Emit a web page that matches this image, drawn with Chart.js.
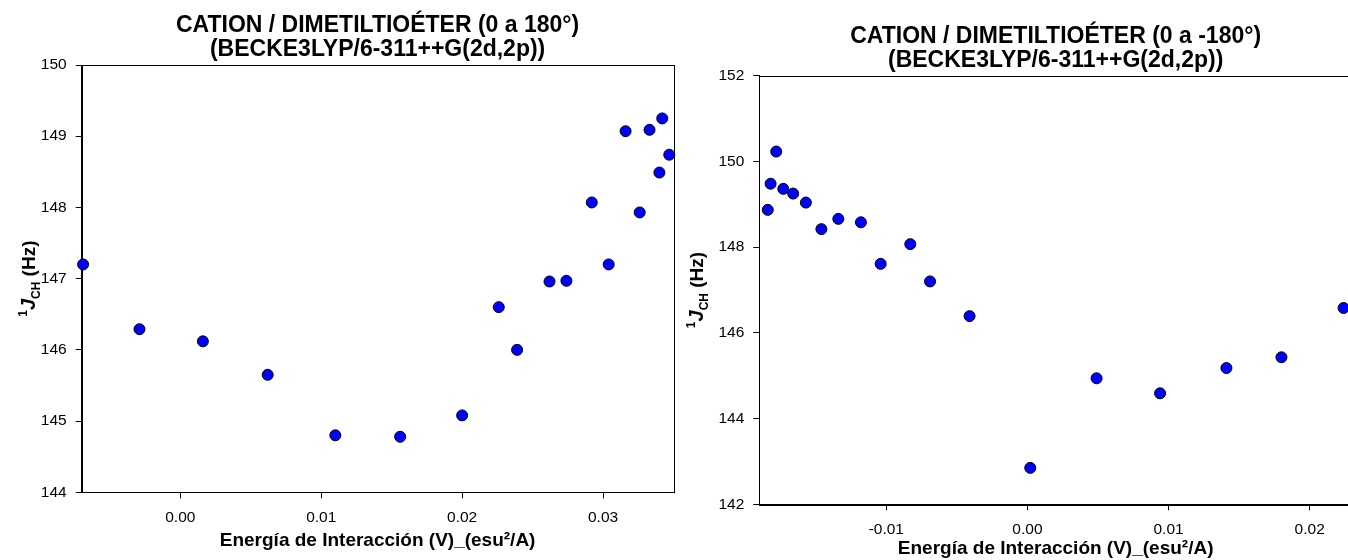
<!DOCTYPE html>
<html>
<head>
<meta charset="utf-8">
<script src="https://cdn.jsdelivr.net/npm/chart.js@4.4.1/dist/chart.umd.min.js"></script>
<style>
html, body { margin: 0; padding: 0; background: #fff; overflow: hidden; width: 1348px; height: 560px; }
.box { position: absolute; top: 0; }
</style>
</head>
<body>
<div class="box" style="left:0"><canvas id="left" width="680" height="560"></canvas></div>
<div class="box" style="left:680px"><canvas id="right" width="680" height="560"></canvas></div>
<script>
// 0 a 180
var leftX = [-0.0069, -0.0029, 0.0016, 0.0062, 0.0110, 0.0156, 0.0200, 0.0226, 0.0239, 0.0262,
             0.0274, 0.0292, 0.0304, 0.0316, 0.0326, 0.0333, 0.0340, 0.0342, 0.0347];
var leftY = [147.20, 146.29, 146.12, 145.65, 144.80, 144.78, 145.08, 146.60, 146.00, 146.96,
             146.97, 148.07, 147.20, 149.07, 147.93, 149.09, 148.49, 149.25, 148.74];
var leftXTicks = [0, 0.01, 0.02, 0.03];
var leftYTicks = [144, 145, 146, 147, 148, 149, 150];

// 0 a -180
var rightX = [-0.0184, -0.0182, -0.0178, -0.0173, -0.0166, -0.0157, -0.0146, -0.0134, -0.0118, -0.0104,
              -0.0083, -0.0069, -0.0041, 0.0002, 0.0049, 0.0094, 0.0141, 0.0180, 0.0224];
var rightY = [148.87, 149.48, 150.23, 149.36, 149.25, 149.04, 148.42, 148.66, 148.58, 147.61,
              148.07, 147.20, 146.39, 142.85, 144.94, 144.59, 145.18, 145.43, 146.58];
var rightXTicks = [-0.01, 0, 0.01, 0.02];
var rightYTicks = [142, 144, 146, 148, 150, 152];

var leftTitle = ['CATION / DIMETILTIOÉTER (0 a 180°)', '(BECKE3LYP/6-311++G(2d,2p))'];
var rightTitle = ['CATION / DIMETILTIOÉTER (0 a -180°)', '(BECKE3LYP/6-311++G(2d,2p))'];
var xTitle = 'Energía de Interacción (V)_(esu²/A)';

var FONT = '"Liberation Sans", Arial, sans-serif';

// box around the plot area
var framePlugin = {
    id: 'frame',
    beforeDatasetsDraw: function (chart) {
        var a = chart.chartArea, c = chart.ctx;
        c.save();
        c.strokeStyle = '#000';
        c.lineWidth = 1;
        c.strokeRect(Math.round(a.left) + 0.5, Math.round(a.top) + 0.5,
                     Math.round(a.right - a.left), Math.round(a.bottom - a.top));
        c.restore();
    }
};

// rotated y title: superscript 1, italic J, subscript CH
var yTitlePlugin = {
    id: 'ytitle',
    afterDraw: function (chart, args, opts) {
        var c = chart.ctx, a = chart.chartArea;
        var parts = [
            { t: '1', f: 'bold 12px ' + FONT, dy: -8 },
            { t: 'J', f: 'italic bold 20px ' + FONT, dy: 0 },
            { t: 'CH', f: 'bold 12px ' + FONT, dy: 5 },
            { t: ' (Hz)', f: 'bold 19px ' + FONT, dy: 0 }
        ];
        c.save();
        var w = 0;
        parts.forEach(function (p) { c.font = p.f; p.w = c.measureText(p.t).width; w += p.w; });
        c.translate(opts.x, (a.top + a.bottom) / 2);
        c.rotate(-Math.PI / 2);
        c.fillStyle = '#000';
        c.textBaseline = 'alphabetic';
        var x = -w / 2;
        parts.forEach(function (p) { c.font = p.f; c.fillText(p.t, x, p.dy); x += p.w; });
        c.restore();
    }
};

function makeChart(id, xs, ys, xTicks, yTicks, title, b) {
    var pts = xs.map(function (x, i) { return { x: x, y: ys[i] }; });
    return new Chart(document.getElementById(id).getContext('2d'), {
        type: 'scatter',
        data: {
            datasets: [{
                data: pts,
                backgroundColor: '#0000ff',
                borderColor: '#000',
                borderWidth: 1,
                pointRadius: 5.5,
                pointHoverRadius: 5.5,
                clip: false
            }]
        },
        options: {
            responsive: false,
            animation: false,
            devicePixelRatio: 1,
            layout: { padding: { left: 0, right: b.rp, top: 0, bottom: 0 } },
            plugins: {
                legend: { display: false },
                tooltip: { enabled: false },
                title: {
                    display: true,
                    text: title,
                    fullSize: false,
                    color: '#000',
                    font: { family: FONT, size: 23, weight: 'bold', lineHeight: '24px' },
                    padding: { top: b.tt, bottom: b.tb }
                },
                ytitle: { x: b.yt }
            },
            scales: {
                x: {
                    type: 'linear',
                    min: b.xmin, max: b.xmax,
                    afterBuildTicks: function (s) { s.ticks = xTicks.map(function (v) { return { value: v }; }); },
                    afterFit: function (s) { s.height = b.xh; },
                    ticks: {
                        autoSkip: false, maxRotation: 0, padding: 10, color: '#000',
                        font: { family: FONT, size: 15.5 },
                        callback: function (v) { return Number(v).toFixed(2); }
                    },
                    grid: { display: true, drawOnChartArea: false, drawTicks: true, tickLength: 6, color: '#000' },
                    border: { display: true, color: '#000', width: 1 },
                    title: {
                        display: true, text: xTitle, color: '#000',
                        font: { family: FONT, size: 19, weight: 'bold' },
                        padding: { top: 0, bottom: b.xtp }
                    }
                },
                y: {
                    type: 'linear',
                    min: b.ymin, max: b.ymax,
                    afterBuildTicks: function (s) { s.ticks = yTicks.map(function (v) { return { value: v }; }); },
                    afterFit: function (s) { s.width = b.yw; },
                    ticks: {
                        autoSkip: false, padding: 9, color: '#000',
                        font: { family: FONT, size: 15.5 }
                    },
                    grid: { display: true, drawOnChartArea: false, drawTicks: true, tickLength: 6, color: '#000' },
                    border: { display: true, color: '#000', width: 1 }
                }
            }
        },
        plugins: [framePlugin, yTitlePlugin]
    });
}

makeChart('left', leftX, leftY, leftXTicks, leftYTicks, leftTitle, {
    xmin: -0.007, xmax: 0.035, ymin: 144, ymax: 150,
    yw: 81.7, xh: 67.7, rp: 5.7, tt: 14, tb: 3, yt: 35, xtp: 8
});
makeChart('right', rightX, rightY, rightXTicks, rightYTicks, rightTitle, {
    xmin: -0.019, xmax: 0.023, ymin: 142, ymax: 152,
    yw: 79.3, xh: 55.7, rp: 8, tt: 25, tb: 2.7, yt: 23, xtp: 0
});
</script>
</body>
</html>
